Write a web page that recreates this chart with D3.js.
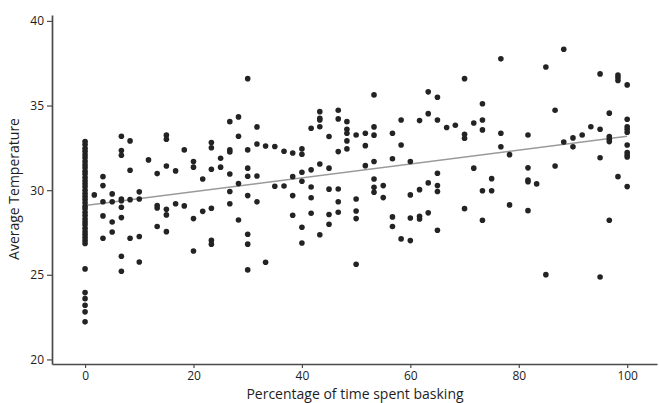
<!DOCTYPE html>
<html>
<head>
<meta charset="utf-8">
<script src="https://cdn.jsdelivr.net/npm/d3@7"></script>
<style>
  html, body { margin: 0; padding: 0; background: #fff; }
  svg { display: block; }
  .axis text { font-family: "Open Sans", "Noto Sans", sans-serif; font-size: 12px; fill: #1e1e1e; }
  .axis path, .axis line { stroke: #4a4a4a; }
  .title { font-family: "Open Sans", "Noto Sans", sans-serif; font-size: 14px; fill: #1e1e1e; }
</style>
</head>
<body>
<svg id="chart" width="659" height="403"></svg>
<script>
// ---- data ----
const baskingLevels = [0, 1.7, 3.3, 5, 6.7, 8.3, 10, 11.7, 13.3, 15, 16.7, 18.3, 20, 21.7, 23.3, 25,
  26.7, 28.3, 30, 31.7, 33.3, 35, 36.7, 38.3, 40, 41.7, 43.3, 45, 46.7, 48.3, 50, 51.7, 53.3, 55,
  56.7, 58.3, 60, 61.7, 63.3, 65, 66.7, 68.3, 70, 71.7, 73.3, 75, 76.7, 78.3, 81.7, 83.3, 85, 86.7,
  88.3, 90, 91.7, 93.3, 95, 96.7, 98.3, 100];

const temperatureByLevel = [
  [32.87, 32.7, 32.48, 32.3, 32.1, 31.92, 31.7, 31.5, 31.33, 31.12, 30.95, 30.75, 30.55, 30.38, 30.2,
   30.0, 29.8, 29.62, 29.45, 29.25, 29.05, 28.9, 28.7, 28.5, 28.3, 28.12, 27.95, 27.75, 27.55, 27.38,
   27.2, 27.02, 26.85, 25.35, 23.95, 23.59, 23.2, 22.81, 22.22],          // 0
  [29.72],                                                                // 1.7
  [30.8, 30.27, 29.32, 28.48, 27.16],                                     // 3.3
  [29.78, 29.32, 28.12, 27.53],                                           // 5
  [33.19, 32.34, 32.06, 29.48, 29.38, 28.99, 28.38, 26.1, 25.21],         // 6.7
  [32.91, 31.18, 29.44, 27.16],                                           // 8.3
  [29.9, 29.48, 27.26, 25.76],                                            // 10
  [31.79],                                                                // 11.7
  [30.98, 29.09, 28.95, 27.85],                                           // 13.3
  [33.25, 33.01, 31.43, 28.87, 28.54, 27.55],                             // 15
  [31.14, 29.2],                                                          // 16.7
  [32.38, 29.07],                                                         // 18.3
  [31.69, 31.36, 28.32, 26.41],                                           // 20
  [30.66, 28.75],                                                         // 21.7
  [32.81, 32.51, 31.24, 28.93, 27.04, 26.81],                             // 23.3
  [31.89, 31.36],                                                         // 25
  [34.05, 32.38, 32.26, 30.96, 29.92, 29.2],                              // 26.7
  [34.33, 33.19, 30.39, 28.24],                                           // 28.3
  [36.59, 32.38, 31.3, 30.82, 29.68, 27.4, 26.81, 25.29],                 // 30
  [33.74, 32.73, 30.84, 29.31],                                           // 31.7
  [32.61, 25.74],                                                         // 33.3
  [32.58, 30.23],                                                         // 35
  [32.3, 30.25],                                                          // 36.7
  [32.2, 30.8, 29.68, 28.52],                                             // 38.3
  [32.44, 32.12, 31.06, 30.53, 27.81, 26.88],                             // 40
  [33.66, 31.2, 30.19, 29.55, 28.64],                                     // 41.7
  [34.64, 34.25, 34.15, 33.75, 31.55, 27.37],                             // 43.3
  [33.17, 31.3, 30.06, 28.56, 27.99],                                     // 45
  [34.72, 34.21, 32.28, 30.07, 29.32, 28.7],                              // 46.7
  [34.05, 33.6, 33.36, 32.91, 32.44],                                     // 48.3
  [33.26, 29.48, 28.77, 28.32, 25.62],                                    // 50
  [33.36, 32.63, 31.45],                                                  // 51.7
  [35.63, 33.74, 33.25, 31.69, 30.66, 30.17, 29.88],                      // 53.3
  [30.27, 29.56],                                                         // 55
  [33.36, 31.86, 28.42, 27.85],                                           // 56.7
  [34.15, 32.67, 27.12],                                                  // 58.3
  [31.69, 29.72, 28.36, 27.02],                                           // 60
  [34.11, 30.03, 28.46, 28.3],                                            // 61.7
  [35.81, 34.52, 30.43, 28.66],                                           // 63.3
  [35.49, 34.15, 31.0, 30.27, 29.92, 27.63],                              // 65
  [33.7],                                                                 // 66.7
  [33.84],                                                                // 68.3
  [36.59, 33.3, 33.07, 28.91],                                            // 70
  [33.97, 31.3],                                                          // 71.7
  [35.11, 34.15, 33.56, 29.97, 28.22],                                    // 73.3
  [30.68, 29.97],                                                         // 75
  [37.76, 33.36, 32.57],                                                  // 76.7
  [32.1, 29.13],                                                          // 78.3
  [33.26, 31.32, 30.6, 30.5, 28.79],                                      // 81.7
  [30.37],                                                                // 83.3
  [37.28, 25.01],                                                         // 85
  [34.72, 31.43],                                                         // 86.7
  [38.33, 32.85],                                                         // 88.3
  [33.09, 32.56],                                                         // 90
  [33.26],                                                                // 91.7
  [33.75],                                                                // 93.3
  [36.87, 33.6, 31.92, 24.87],                                            // 95
  [34.55, 33.17, 33.03, 32.87, 28.22],                                    // 96.7
  [36.8, 36.65, 36.48, 30.8],                                             // 98.3
  [36.22, 34.19, 33.75, 33.6, 33.42, 32.67, 32.22, 32.08, 31.96, 30.21]   // 100
];

const fitX = [0, 100];
const fitY = [29.1, 33.18];

const xTicks = [0, 20, 40, 60, 80, 100];
const yTicks = [20, 25, 30, 35, 40];

const xTitle = "Percentage of time spent basking";
const yTitle = "Average Temperature";

// ---- build points ----
const points = [];
baskingLevels.forEach((b, i) => {
  temperatureByLevel[i].forEach(t => points.push({ x: b, y: t }));
});

// ---- drawing ----
const svg = d3.select("#chart");

const x = d3.scaleLinear().domain([-6.1, 105.5]).range([52, 657]);
const y = d3.scaleLinear().domain([19.73, 40.35]).range([364, 15]);

// fit line
svg.append("line")
  .attr("x1", x(fitX[0])).attr("y1", y(fitY[0]))
  .attr("x2", x(fitX[1])).attr("y2", y(fitY[1]))
  .attr("stroke", "#9a9a9a")
  .attr("stroke-width", 1.5);

// points
svg.append("g")
  .selectAll("circle")
  .data(points)
  .join("circle")
  .attr("cx", d => x(d.x))
  .attr("cy", d => y(d.y))
  .attr("r", 2.8)
  .attr("fill", "#232323");

// axes
svg.append("g")
  .attr("class", "axis")
  .attr("transform", "translate(0,364)")
  .call(d3.axisBottom(x).tickValues(xTicks).tickSize(4).tickSizeOuter(0).tickPadding(3));

svg.append("g")
  .attr("class", "axis")
  .attr("transform", "translate(52,0)")
  .call(d3.axisLeft(y).tickValues(yTicks).tickSize(5).tickSizeOuter(0).tickPadding(3));

svg.selectAll(".axis .domain").attr("stroke-width", 1.7);
svg.selectAll(".axis .tick line").attr("stroke-width", 1.2);

// titles
svg.append("text")
  .attr("class", "title")
  .attr("x", 355)
  .attr("y", 399)
  .attr("text-anchor", "middle")
  .text(xTitle);

svg.append("text")
  .attr("class", "title")
  .attr("transform", "translate(19,189) rotate(-90)")
  .attr("text-anchor", "middle")
  .text(yTitle);
</script>
</body>
</html>
